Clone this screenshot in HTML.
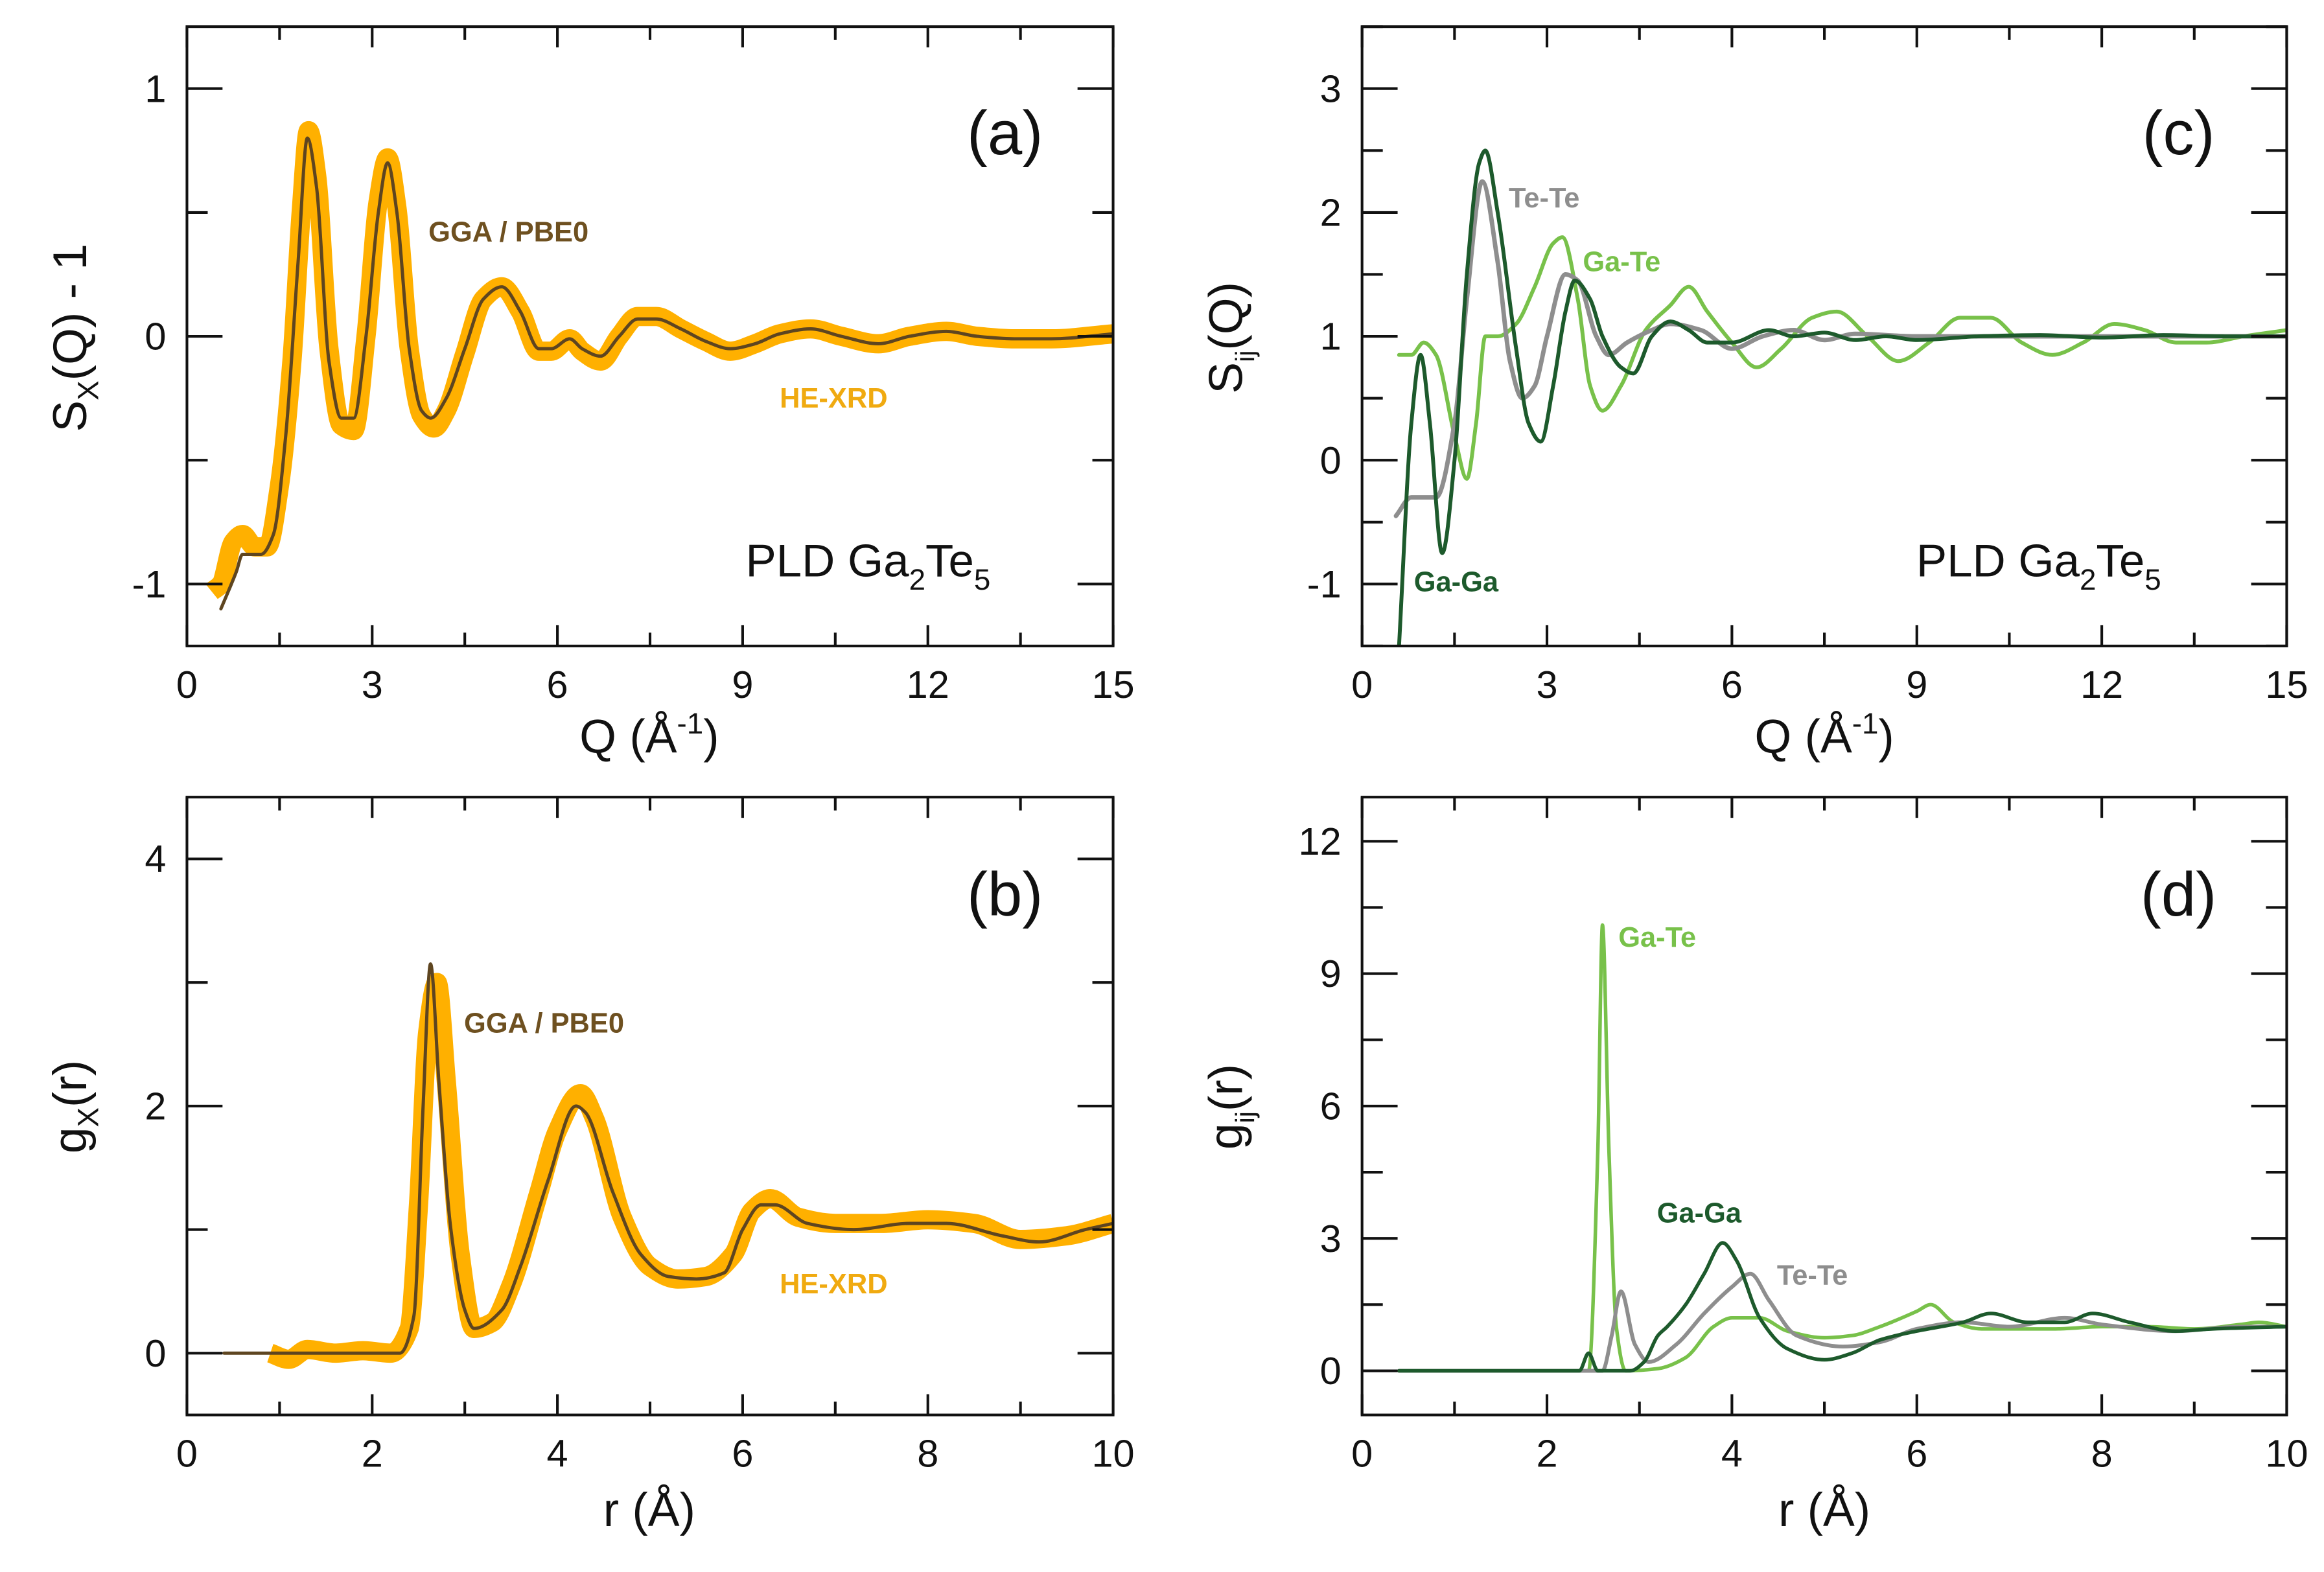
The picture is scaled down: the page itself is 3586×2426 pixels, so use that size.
<!DOCTYPE html>
<html><head><meta charset="utf-8"><style>
html,body{margin:0;padding:0;background:#fff;}
svg{display:block;font-family:"Liberation Sans",sans-serif;}
</style></head><body>
<svg id="fig" width="3586" height="2426" viewBox="0 0 1568 1061" xmlns="http://www.w3.org/2000/svg">
<rect width="1568" height="1061" fill="#fff"/>
</svg>
<script>
// ---- Panel (a) data ----
const aQ_model=[0.55,0.8,0.9,1.0,1.2,1.4,1.6,1.8,1.95,2.1,2.3,2.5,2.7,2.9,3.1,3.25,3.4,3.6,3.8,3.95,4.2,4.5,4.8,5.1,5.4,5.7,5.9,6.2,6.4,6.7,7.0,7.3,7.6,8.0,8.4,8.8,9.2,9.6,10.1,10.6,11.2,11.7,12.3,12.8,13.4,14,15];
const aS_model=[-1.1,-0.95,-0.88,-0.88,-0.88,-0.8,-0.4,0.3,0.8,0.6,-0.1,-0.33,-0.33,0.0,0.5,0.7,0.5,-0.05,-0.3,-0.33,-0.25,-0.05,0.15,0.2,0.1,-0.05,-0.05,-0.01,-0.05,-0.08,0,0.07,0.07,0.03,-0.02,-0.05,-0.03,0.01,0.03,0.0,-0.03,0,0.02,0.0,-0.01,-0.01,0.01];
const aQ_exp=[0.4,0.55,0.75,0.9,1.1,1.3,1.5,1.7,1.85,1.97,2.1,2.3,2.5,2.7,2.9,3.1,3.25,3.4,3.6,3.8,4.0,4.2,4.5,4.8,5.1,5.4,5.7,5.9,6.2,6.4,6.7,7.0,7.3,7.6,8.0,8.4,8.8,9.2,9.6,10.1,10.6,11.2,11.7,12.3,12.8,13.4,14,15];
const aS_exp=[-1.03,-1.0,-0.83,-0.8,-0.85,-0.85,-0.6,-0.1,0.5,0.83,0.65,-0.05,-0.36,-0.38,0.0,0.55,0.72,0.52,-0.05,-0.32,-0.37,-0.3,-0.07,0.15,0.2,0.1,-0.06,-0.06,-0.01,-0.06,-0.1,0,0.08,0.08,0.03,-0.02,-0.06,-0.03,0.01,0.03,0.0,-0.03,0,0.02,0.0,-0.01,-0.01,0.01];
// ---- Panel (b) data ----
const bR_model=[0.4,2.3,2.45,2.55,2.63,2.72,2.85,3.0,3.1,3.4,3.6,3.9,4.2,4.3,4.6,4.9,5.2,5.5,5.8,6.0,6.2,6.35,6.7,7.2,7.8,8.2,8.8,9.2,9.7,10];
const bG_model=[0,0,0.3,2.0,3.15,2.2,1.0,0.35,0.2,0.35,0.7,1.4,2.0,1.95,1.3,0.8,0.62,0.6,0.65,1.0,1.2,1.2,1.05,1.0,1.05,1.05,0.95,0.9,1.0,1.05];
const bR_exp=[0.9,1.1,1.3,1.6,1.9,2.2,2.4,2.5,2.6,2.7,2.8,2.95,3.1,3.3,3.5,3.8,4.0,4.25,4.4,4.7,5.0,5.3,5.6,5.9,6.1,6.3,6.6,7.0,7.5,8.0,8.5,9.0,9.5,10];
const bG_exp=[0,-0.05,0.03,0,0.02,0,0.2,1.2,2.6,3.0,2.2,0.8,0.2,0.25,0.55,1.3,1.8,2.1,1.9,1.1,0.7,0.6,0.62,0.8,1.15,1.25,1.1,1.05,1.05,1.08,1.05,0.92,0.95,1.05];
// ---- Panel (c) data ----
const cQ_GaGa=[0.6,0.8,0.95,1.1,1.3,1.5,1.7,1.9,2.0,2.2,2.5,2.7,2.9,3.1,3.3,3.45,3.7,3.9,4.2,4.4,4.7,5.0,5.3,5.6,6.0,6.6,7.0,7.5,8.0,8.5,9.0,10,11,12,13,14,15];
const cS_GaGa=[-1.5,0.3,0.85,0.3,-0.75,0.0,1.5,2.4,2.5,2.0,0.9,0.3,0.15,0.6,1.2,1.45,1.3,1.0,0.75,0.7,1.0,1.12,1.05,0.95,0.95,1.05,1.0,1.03,0.97,1.0,0.97,1.0,1.01,0.99,1.01,1.0,1.0];
const cQ_GaTe=[0.6,0.8,1.0,1.2,1.5,1.7,1.85,2.0,2.2,2.5,2.8,3.1,3.25,3.5,3.7,3.9,4.2,4.6,5.0,5.3,5.6,6.0,6.4,6.8,7.3,7.7,8.2,8.7,9.2,9.7,10.2,10.7,11.2,11.7,12.2,12.7,13.2,13.7,14.3,15];
const cS_GaTe=[0.85,0.85,0.95,0.85,0.2,-0.15,0.3,1.0,1.0,1.1,1.4,1.75,1.8,1.3,0.6,0.4,0.6,1.05,1.25,1.4,1.2,0.95,0.75,0.9,1.15,1.2,1.0,0.8,0.95,1.15,1.15,0.95,0.85,0.95,1.1,1.05,0.95,0.95,1.0,1.05];
const cQ_TeTe=[0.55,0.8,1.2,1.5,1.7,1.95,2.2,2.4,2.6,2.8,3.0,3.3,3.5,3.8,4.0,4.3,4.7,5.0,5.5,6.0,6.5,7.0,7.5,8.0,9.0,10,11,12,13,14,15];
const cS_TeTe=[-0.45,-0.3,-0.3,0.3,1.3,2.25,1.6,0.8,0.5,0.6,1.0,1.5,1.45,1.0,0.85,0.95,1.05,1.1,1.05,0.9,1.0,1.05,0.97,1.02,1.0,1.0,1.0,1.0,1.0,1.0,1.0];
// ---- Panel (d) data ----
const dR_GaTe=[0.4,2.45,2.55,2.6,2.67,2.75,2.85,3.2,3.5,3.8,4.0,4.3,4.6,5.0,5.3,5.6,6.0,6.15,6.4,6.7,7.5,8,8.5,9,9.5,9.7,10];
const dG_GaTe=[0,0,5,10.1,5,1,0,0.05,0.3,1.0,1.2,1.2,0.9,0.75,0.8,1.0,1.35,1.5,1.1,0.95,0.95,1.0,1.0,0.95,1.05,1.1,1.0];
const dR_GaGa=[0.4,2.35,2.45,2.55,2.9,3.05,3.2,3.3,3.5,3.7,3.9,4.05,4.3,4.6,5.0,5.3,5.6,6.0,6.5,6.8,7.2,7.6,7.9,8.3,8.8,9.2,10];
const dG_GaGa=[0,0,0.4,0,0,0.2,0.8,1.0,1.5,2.2,2.9,2.5,1.2,0.5,0.25,0.4,0.7,0.9,1.1,1.3,1.1,1.1,1.3,1.1,0.9,0.95,1.0];
const dR_TeTe=[0.4,2.6,2.7,2.8,2.95,3.1,3.4,3.7,4.0,4.2,4.4,4.7,5.2,5.6,6.0,6.5,7,7.6,8,8.8,9.5,10];
const dG_TeTe=[0,0,0.8,1.8,0.6,0.2,0.6,1.3,1.9,2.2,1.6,0.8,0.55,0.65,0.95,1.1,1.0,1.2,1.05,0.9,1.0,1.0];

const NS="http://www.w3.org/2000/svg";
const svg=document.getElementById('fig');
function el(tag,attrs,parent){const e=document.createElementNS(NS,tag);for(const k in attrs)e.setAttribute(k,attrs[k]);(parent||svg).appendChild(e);return e;}
function mkScale(d0,d1,p0,p1){return v=>p0+(v-d0)/(d1-d0)*(p1-p0);}
// monotone cubic (Fritsch-Carlson) path - no overshoot
function smoothPath(xs,ys,sx,sy){
  const X=xs.map(sx),Y=ys.map(sy),n=X.length;
  const d=[],m=new Array(n);
  for(let i=0;i<n-1;i++)d.push((Y[i+1]-Y[i])/(X[i+1]-X[i]));
  m[0]=d[0];m[n-1]=d[n-2];
  for(let i=1;i<n-1;i++){
    if(d[i-1]*d[i]<=0)m[i]=0;
    else{const h0=X[i]-X[i-1],h1=X[i+1]-X[i],w1=2*h1+h0,w2=h1+2*h0;m[i]=(w1+w2)/(w1/d[i-1]+w2/d[i]);}
  }
  let p='M'+X[0].toFixed(2)+','+Y[0].toFixed(2);
  for(let i=0;i<n-1;i++){
    const h=(X[i+1]-X[i])/3;
    p+=' C'+(X[i]+h).toFixed(2)+','+(Y[i]+m[i]*h).toFixed(2)+' '+(X[i+1]-h).toFixed(2)+','+(Y[i+1]-m[i+1]*h).toFixed(2)+' '+X[i+1].toFixed(2)+','+Y[i+1].toFixed(2);
  }
  return p;
}
function panel(o){
  const g=el('g',{});
  
  
  const sx=mkScale(o.xd[0],o.xd[1],o.x0,o.x1), sy=mkScale(o.yd[0],o.yd[1],o.y1,o.y0);
  const clip=el('clipPath',{id:'clip-'+o.name},g);
  el('rect',{x:o.x0,y:o.y0,width:o.x1-o.x0,height:o.y1-o.y0},clip);
  const plot=el('g',{'clip-path':'url(#clip-'+o.name+')'},g);
  o.series.forEach(s=>{
    const p=el('path',{d:smoothPath(s.x,s.y,sx,sy),fill:'none',stroke:s.color,'stroke-width':s.w,'stroke-linejoin':'round','stroke-linecap':s.cap||'round'},plot);
    
    
  });
  const fr=el('rect',{x:o.x0,y:o.y0,width:o.x1-o.x0,height:o.y1-o.y0,fill:'none',stroke:'#111','stroke-width':1.8},g);
  
  
  for(let v=o.xd[0];v<=o.xd[1]+1e-9;v+=o.xminor){
    const major=Math.abs(v/o.xmajor-Math.round(v/o.xmajor))<1e-6;
    const L=major?14:9,x=sx(v);
    el('line',{x1:x,y1:o.y1,x2:x,y2:o.y1-L,stroke:'#111','stroke-width':1.8},g);
    el('line',{x1:x,y1:o.y0,x2:x,y2:o.y0+L,stroke:'#111','stroke-width':1.8},g);
    if(major){const t=el('text',{x:x,y:o.y1+35,'font-size':26,'text-anchor':'middle',fill:'#111'},g);t.textContent=String(Math.round(v*100)/100);
      }
  }
  const ys=Math.ceil((o.yd[0]-1e-9)/o.yminor)*o.yminor;
  for(let v=ys;v<=o.yd[1]+1e-9;v+=o.yminor){
    const major=Math.abs(v/o.ymajor-Math.round(v/o.ymajor))<1e-6;
    const L=major?24:14,y=sy(v);
    el('line',{x1:o.x0,y1:y,x2:o.x0+L,y2:y,stroke:'#111','stroke-width':1.8},g);
    el('line',{x1:o.x1,y1:y,x2:o.x1-L,y2:y,stroke:'#111','stroke-width':1.8},g);
    if(major){const t=el('text',{x:o.x0-14,y:y+9,'font-size':26,'text-anchor':'end',fill:'#111'},g);t.textContent=String(Math.round(v*100)/100);
      }
  }
  return g;
}
const orange='#ffb000',brown='#5e4520',dk='#1d5a2c',lt='#78c14a',gr='#8e8e8e';
panel({name:'panel-a',x0:126,x1:751,y0:18,y1:436,xd:[0,15],yd:[-1.25,1.25],xmajor:3,xminor:1.5,ymajor:1,yminor:0.5,
  series:[{name:'he-xrd-sq',x:aQ_exp,y:aS_exp,color:orange,w:13,cap:'butt'},{name:'gga-pbe0-sq',x:aQ_model,y:aS_model,color:brown,w:2.2}]});
panel({name:'panel-b',x0:126,x1:751,y0:538,y1:955,xd:[0,10],yd:[-0.5,4.5],xmajor:2,xminor:1,ymajor:2,yminor:1,
  series:[{name:'he-xrd-gr',x:bR_exp,y:bG_exp,color:orange,w:13,cap:'butt'},{name:'gga-pbe0-gr',x:bR_model,y:bG_model,color:brown,w:2.2}]});
panel({name:'panel-c',x0:919,x1:1543,y0:18,y1:436,xd:[0,15],yd:[-1.5,3.5],xmajor:3,xminor:1.5,ymajor:1,yminor:0.5,
  series:[{name:'ga-te-sq',x:cQ_GaTe,y:cS_GaTe,color:lt,w:2.6},{name:'te-te-sq',x:cQ_TeTe,y:cS_TeTe,color:gr,w:3},{name:'ga-ga-sq',x:cQ_GaGa,y:cS_GaGa,color:dk,w:2.6}]});
panel({name:'panel-d',x0:919,x1:1543,y0:538,y1:955,xd:[0,10],yd:[-1,13],xmajor:2,xminor:1,ymajor:3,yminor:1.5,
  series:[{name:'ga-te-gr',x:dR_GaTe,y:dG_GaTe,color:lt,w:2.4},{name:'te-te-gr',x:dR_TeTe,y:dG_TeTe,color:gr,w:2.6},{name:'ga-ga-gr',x:dR_GaGa,y:dG_GaGa,color:dk,w:2.4}]});
</script>
<script>
(function(){
const svg=document.getElementById('fig');
svg.insertAdjacentHTML('beforeend',`
<text x="678" y="104" font-size="42" text-anchor="middle" fill="#111">(a)</text>
<text x="678" y="618" font-size="42" text-anchor="middle" fill="#111">(b)</text>
<text x="1470" y="104" font-size="42" text-anchor="middle" fill="#111">(c)</text>
<text x="1470" y="618" font-size="42" text-anchor="middle" fill="#111">(d)</text>
<text x="503" y="389" font-size="31" fill="#111">PLD Ga<tspan font-size="20" dy="9">2</tspan><tspan dy="-9">Te</tspan><tspan font-size="20" dy="9">5</tspan></text>
<text x="1293" y="389" font-size="31" fill="#111">PLD Ga<tspan font-size="20" dy="9">2</tspan><tspan dy="-9">Te</tspan><tspan font-size="20" dy="9">5</tspan></text>
<text x="289" y="163" font-size="19" font-weight="bold" fill="#6e5020">GGA / PBE0</text>
<text x="526" y="275" font-size="19" font-weight="bold" fill="#f0aa10">HE-XRD</text>
<text x="313" y="697" font-size="19" font-weight="bold" fill="#6e5020">GGA / PBE0</text>
<text x="526" y="873" font-size="19" font-weight="bold" fill="#f0aa10">HE-XRD</text>
<text x="1018" y="140" font-size="19" font-weight="bold" fill="#8e8e8e">Te-Te</text>
<text x="1068" y="183" font-size="19" font-weight="bold" fill="#78c14a">Ga-Te</text>
<text x="954" y="399" font-size="19" font-weight="bold" fill="#1d5a2c">Ga-Ga</text>
<text x="1092" y="639" font-size="19" font-weight="bold" fill="#78c14a">Ga-Te</text>
<text x="1118" y="825" font-size="19" font-weight="bold" fill="#1d5a2c">Ga-Ga</text>
<text x="1199" y="867" font-size="19" font-weight="bold" fill="#8e8e8e">Te-Te</text>
<text x="438" y="508" font-size="32" text-anchor="middle" fill="#111">Q (Å<tspan font-size="20" dy="-13">-1</tspan><tspan dy="13">)</tspan></text>
<text x="1231" y="508" font-size="32" text-anchor="middle" fill="#111">Q (Å<tspan font-size="20" dy="-13">-1</tspan><tspan dy="13">)</tspan></text>
<text x="438" y="1030" font-size="32" text-anchor="middle" fill="#111">r (Å)</text>
<text x="1231" y="1030" font-size="32" text-anchor="middle" fill="#111">r (Å)</text>
<text transform="translate(58,228) rotate(-90)" font-size="32" text-anchor="middle" fill="#111">S<tspan font-size="20" dy="8">X</tspan><tspan dy="-8">(Q) - 1</tspan></text>
<text transform="translate(58,747) rotate(-90)" font-size="32" text-anchor="middle" fill="#111">g<tspan font-size="20" dy="8">X</tspan><tspan dy="-8">(r)</tspan></text>
<text transform="translate(838,228) rotate(-90)" font-size="32" text-anchor="middle" fill="#111">S<tspan font-size="18" dy="8">ij</tspan><tspan dy="-8">(Q)</tspan></text>
<text transform="translate(838,747) rotate(-90)" font-size="32" text-anchor="middle" fill="#111">g<tspan font-size="18" dy="8">ij</tspan><tspan dy="-8">(r)</tspan></text>
`);
})();
</script>
</body></html>
